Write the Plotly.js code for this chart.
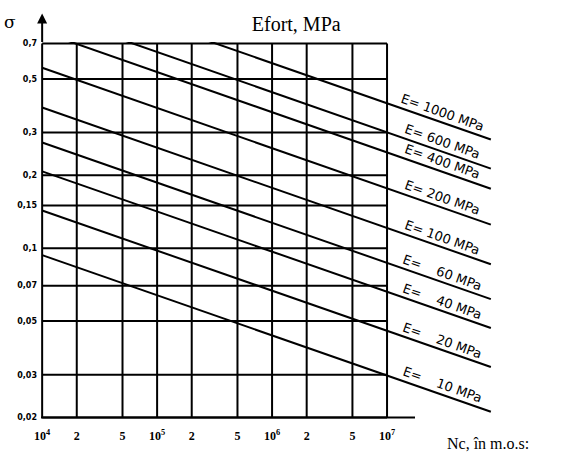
<!DOCTYPE html>
<html>
<head>
<meta charset="utf-8">
<script src="https://cdn.plot.ly/plotly-3.0.1.min.js"></script>
<style>html,body{margin:0;padding:0;background:#fff;}#chart{width:569px;height:454px;}</style>
</head>
<body>
<div id="chart"></div>
<script>
// ---- data ----
const modulusE = [1000, 600, 400, 200, 100, 60, 40, 20, 10];           // MPa
const lineN = [1e4, 8e7];                                               // cycles at line ends
const sigmaAtStart = [1.245, 0.946, 0.782, 0.556, 0.381, 0.273, 0.2075, 0.143, 0.0936];
const sigmaAtEnd   = [0.281, 0.213, 0.176, 0.125, 0.0858, 0.0616, 0.0468, 0.0323, 0.0211];
const xTickVals = [1e4, 2e4, 5e4, 1e5, 2e5, 5e5, 1e6, 2e6, 5e6, 1e7];
const xTickText = ['10<sup>4</sup>', '2', '5', '10<sup>5</sup>', '2', '5', '10<sup>6</sup>', '2', '5', '10<sup>7</sup>'];
const yTickVals = [0.7, 0.5, 0.3, 0.2, 0.15, 0.1, 0.07, 0.05, 0.03, 0.02];
const yTickText = ['0,7', '0,5', '0,3', '0,2', '0,15', '0,1', '0,07', '0,05', '0,03', '0,02'];

const INK = '#000';
const traces = [];

// grid (drawn as line traces from the tick arrays)
const yMin = Math.min(...yTickVals), yMax = Math.max(...yTickVals);
const xMin = Math.min(...xTickVals), xMax = Math.max(...xTickVals);
const gx = [], gy = [];
xTickVals.forEach(v => { gx.push(v, v, null); gy.push(yMin, yMax, null); });
yTickVals.forEach(v => { gx.push(xMin, xMax, null); gy.push(v, v, null); });
traces.push({x: gx, y: gy, mode: 'lines', line: {color: INK, width: 2}, hoverinfo: 'skip', showlegend: false});

// E lines
modulusE.forEach((e, i) => {
  traces.push({x: lineN, y: [sigmaAtStart[i], sigmaAtEnd[i]], mode: 'lines',
    line: {color: INK, width: 2}, name: 'E = ' + e + ' MPa', showlegend: false});
});

// annotations
const annotations = [];
const labelLogN = 7.455;
const l0 = Math.log10(lineN[0]), l1 = Math.log10(lineN[1]);
modulusE.forEach((e, i) => {
  const t = (labelLogN - l0) / (l1 - l0);
  const ls = Math.log10(sigmaAtStart[i]) + t * (Math.log10(sigmaAtEnd[i]) - Math.log10(sigmaAtStart[i]));
  const gap = String(e).length >= 3 ? '\u00a0' : '\u00a0\u00a0\u00a0\u00a0';
  annotations.push({x: labelLogN, y: ls, xref: 'x', yref: 'y', showarrow: false,
    text: 'E=' + gap + e + ' MPa', textangle: 19.5, xanchor: 'center', yanchor: 'middle',
    xshift: 3, yshift: 9, font: {family: 'DejaVu Sans', size: 13, color: INK}});
});

const L = 41, T = 41.5, W = 461, H = 378;
const xr = [3.99, 8.0];
const yr = [Math.log10(0.0197), Math.log10(0.71)];
const pyOf = v => (Math.log10(v) - yr[0]) / (yr[1] - yr[0]);

// y-axis arrow
annotations.push({x: Math.log10(xMin), xref: 'x', y: 1 + (T - 13) / H, yref: 'paper', ax: 0, ay: 30,
  showarrow: true, arrowhead: 2, arrowsize: 1, arrowwidth: 2, arrowcolor: INK, text: ''});
// sigma
annotations.push({x: (10 - L) / W, y: 1 + (T - 21) / H, xref: 'paper', yref: 'paper', showarrow: false,
  text: 'σ', font: {family: 'DejaVu Serif', size: 17, color: INK}, xanchor: 'center', yanchor: 'middle'});
// x caption
annotations.push({x: (445 - L) / W, y: 1 - (444 - T) / H, xref: 'paper', yref: 'paper', showarrow: false,
  text: 'Nc, în m.o.s:', font: {family: 'Liberation Serif', size: 16, color: INK}, xanchor: 'left', yanchor: 'middle'});

const layout = {
  width: 569, height: 454,
  margin: {l: L, t: T, r: 569 - L - W, b: 454 - T - H, pad: 0},
  paper_bgcolor: '#fff', plot_bgcolor: '#fff',
  showlegend: false,
  title: {text: 'Efort, MPa', x: 315 / 569, xanchor: 'center', xref: 'paper', y: 1 - 24 / 454, yanchor: 'middle',
    font: {family: 'Liberation Serif', size: 20, color: INK}},
  xaxis: {type: 'log', range: xr, showgrid: false, zeroline: false, showline: false,
    tickvals: xTickVals, ticktext: xTickText, ticks: '', ticklabelstandoff: 8,
    tickfont: {family: 'Liberation Serif', size: 12, color: INK, weight: 'bold'}},
  yaxis: {type: 'log', range: yr, showgrid: false, zeroline: false, showline: false,
    tickvals: yTickVals, ticktext: yTickText, ticks: '', ticklabelstandoff: 3,
    tickfont: {family: 'DejaVu Sans', size: 8, color: INK, weight: 'bold'}},
  shapes: [{type: 'line', xref: 'paper', yref: 'paper', x0: 0, x1: (415 - L) / W,
    y0: pyOf(yMin), y1: pyOf(yMin), line: {color: INK, width: 2}}],
  annotations: annotations
};

Plotly.newPlot('chart', traces, layout, {staticPlot: true, displayModeBar: false});
</script>
</body>
</html>
